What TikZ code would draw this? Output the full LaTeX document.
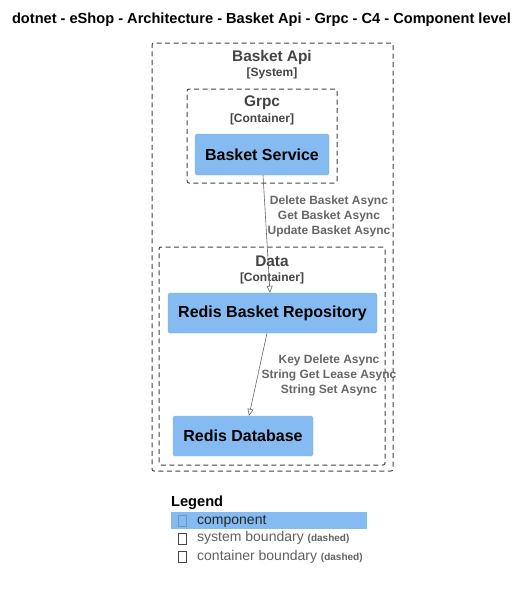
\documentclass[tikz,border=0pt]{standalone}
\usepackage{fontspec}
\setmainfont{Liberation Sans}
\usetikzlibrary{positioning,arrows.meta}
\definecolor{compblue}{HTML}{85BBF0}
\definecolor{edgegrey}{HTML}{666666}
\definecolor{boundgrey}{HTML}{444444}

\tikzstyle{comp} = [rectangle, rounded corners=1.5pt, fill=compblue, draw=compblue!92!black, line width=0.3pt, inner sep=0pt, text=black, font=\bfseries\fontsize{16}{18}\selectfont]
\tikzstyle{bound} = [rectangle, rounded corners=2pt, draw=boundgrey, dash pattern=on 5pt off 3.5pt, line width=1pt, inner sep=0pt]
\tikzstyle{btitle} = [inner sep=0pt, text=boundgrey, font=\bfseries\fontsize{15.4}{17}\selectfont]
\tikzstyle{btype} = [inner sep=0pt, text=boundgrey, font=\bfseries\fontsize{12}{14}\selectfont]
\tikzstyle{rel} = [draw=edgegrey, line width=0.6pt, -{Triangle[open, length=7pt, width=6pt]}]
\tikzstyle{rellabel} = [inner sep=0pt, align=center, text=edgegrey, font=\bfseries\fontsize{12}{15}\selectfont]
\tikzstyle{legtext} = [inner sep=0pt, anchor=west, text=boundgrey!85, font=\fontsize{14}{16}\selectfont]
\tikzstyle{tofu} = [rectangle, draw=boundgrey, line width=0.5pt, minimum width=8pt, minimum height=11pt, inner sep=0pt]

\begin{document}
\begin{tikzpicture}[x=1pt,y=-1pt]
        \useasboundingbox (0,0) rectangle (529,590);
        \node(title) [inner sep=0pt, font=\bfseries\fontsize{14.6}{16}\selectfont] at (261.5,20) {dotnet - eShop - Architecture - Basket Api - Grpc - C4 - Component level};
        % boundaries
        \node[bound, minimum width=241pt, minimum height=428pt] (sys) at (272.5,257) {};
        \node[btitle] (sysn) at (272,58) {Basket Api};
        \node[btype] (syst) at (272,73) {[System]};
        \node[bound, minimum width=150pt, minimum height=94pt] (grpc) at (262,136) {};
        \node[btitle] (grpcn) at (262,103) {Grpc};
        \node[btype] (grpct) at (262,119) {[Container]};
        \node[bound, minimum width=226pt, minimum height=218pt] (data) at (272,356) {};
        \node[btitle] (datan) at (272,261.5) {Data};
        \node[btype] (datat) at (272,278) {[Container]};
        % components
        \node[comp, minimum width=134pt, minimum height=41pt] (bs) at (262,154.5) {Basket Service};
        \node[comp, minimum width=209pt, minimum height=40pt] (rbr) at (272.5,313) {Redis Basket Repository};
        \node[comp, minimum width=140pt, minimum height=40pt] (rdb) at (243,436) {Redis Database};
        % relations
        \draw[rel] ([xshift=1pt]bs.south) -- ([xshift=-2.5pt]rbr.north);
        \node[rellabel] (l1) at (329,216.5) {Delete Basket Async\\Get Basket Async\\Update Basket Async};
        \draw[rel] ([xshift=-5.5pt]rbr.south) -- ([xshift=6pt]rdb.north);
        \node[rellabel] (l2) at (329,375.5) {Key Delete Async\\String Get Lease Async\\String Set Async};
        % legend
        \node(leg) [inner sep=0pt, anchor=west, font=\bfseries\fontsize{14.6}{16}\selectfont] at (171,503) {Legend};
        \node(lcomp) [rectangle, fill=compblue, inner sep=0pt, minimum width=196pt, minimum height=17pt] at (269,520.5) {};
        \node[tofu, draw=compblue!80!black] (t1) at (182,521) {};
        \node[legtext, text=black!85] (c1) at (197,521) {component};
        \node[tofu] (t2) at (182,539) {};
        \node[legtext] (c2) at (197,538) {system boundary {\bfseries\fontsize{10}{11}\selectfont(dashed)}};
        \node[tofu] (t3) at (182,557) {};
        \node[legtext] (c3) at (197,557) {container boundary {\bfseries\fontsize{10}{11}\selectfont(dashed)}};
    \end{tikzpicture}
\end{document}
